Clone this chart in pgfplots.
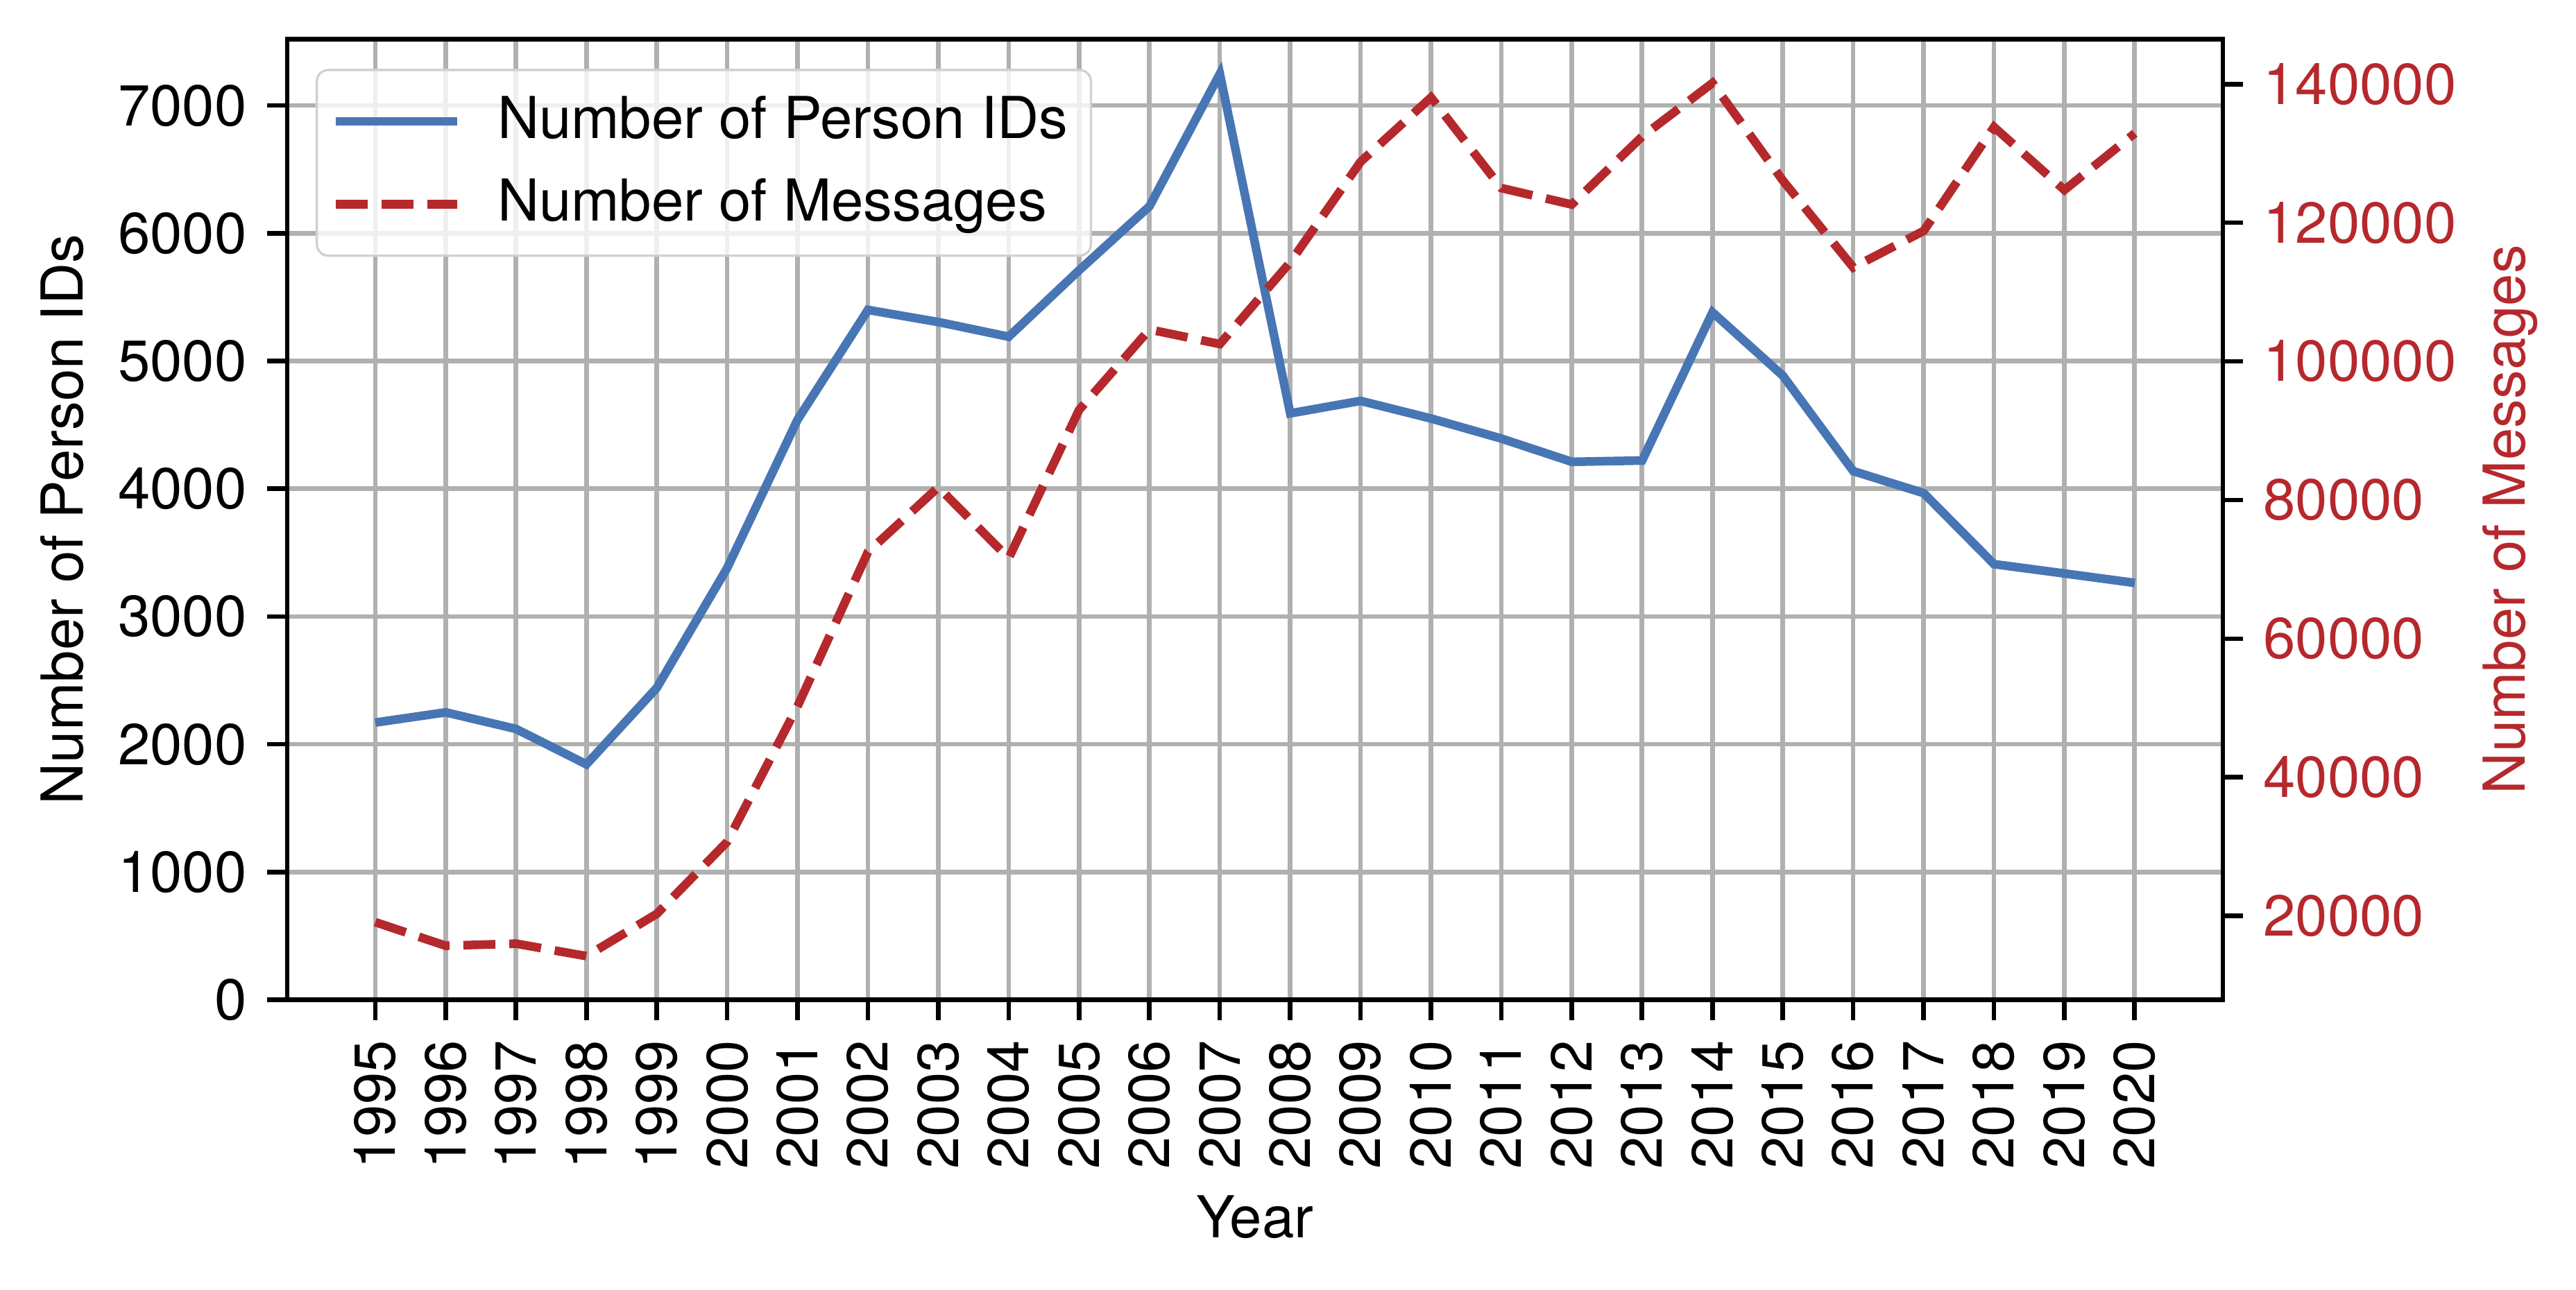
\documentclass[border=0pt]{standalone}
\usepackage{pgfplots}
\pgfplotsset{compat=1.18}
\usepackage{fontspec}
\setmainfont{TeX Gyre Heros}
\definecolor{cblue}{RGB}{72,118,180}
\definecolor{cred}{RGB}{181,40,44}
\definecolor{gridgray}{RGB}{176,176,176}

\pgfplotstableread{
year persons messages
1995 2170 19100
1996 2250 15700
1997 2120 16000
1998 1843 14200
1999 2442 20300
2000 3380 30700
2001 4541 50250
2002 5400 72500
2003 5305 81850
2004 5190 71600
2005 5710 93000
2006 6211 104600
2007 7248 102500
2008 4590 114300
2009 4688 128800
2010 4550 138070
2011 4393 125000
2012 4211 122630
2013 4221 132440
2014 5381 140160
2015 4885 126080
2016 4138 113550
2017 3966 118820
2018 3410 133800
2019 3337 124720
2020 3263 132900
}\datatable

\begin{document}
\begin{tikzpicture}
\pgfplotsset{
  common/.style={
    scale only axis, width=334.8pt, height=166.2pt, at={(0,0)}, anchor=south west,
    xmin=1993.75, xmax=2021.25,
    tick align=outside, major tick length=3.5pt,
    every tick/.style={black, line width=0.8pt},
    /pgf/number format/fixed, /pgf/number format/precision=0,
    /pgf/number format/1000 sep={}, /pgf/number format/assume math mode=true,
    scaled y ticks=false, scaled x ticks=false,
    tick label style={font=\fontsize{10}{12}\selectfont},
    label style={font=\fontsize{10}{12}\selectfont},
    axis line style={line width=0.8pt},
  }
}
\begin{axis}[common,
  ymin=0, ymax=7518,
  xtick={1995,...,2020},
  ytick={0,1000,...,7000},
  xtick pos=left, ytick pos=left,
  xticklabel style={rotate=90, anchor=east},
  grid=major,
  major grid style={gridgray, line width=0.8pt},
  xlabel={Year},
  xlabel style={yshift=2.3pt},
  ylabel={Number of Person IDs},
  ylabel style={yshift=-0.9pt},
]
\addplot[cblue, line width=1.5pt] table[x=year, y=persons] {\datatable};
\end{axis}
\begin{axis}[common,
  ymin=7900, ymax=146460,
  axis x line=none,
  axis y line*=right,
  ytick={20000,40000,...,140000},
  yticklabel style={text=cred},
  ylabel={Number of Messages},
  ylabel style={text=cred, yshift=2.3pt},
  legend cell align=left,
  legend image code/.code={\draw[#1] (0pt,0pt) -- (21pt,0pt); \path[draw=none] (0pt,0pt) -- (26.5pt,0pt);},
  legend style={at={(0,1)}, anchor=north west, xshift=4.9pt, yshift=-5.1pt,
    draw=black!18, rounded corners=2pt, fill=white, fill opacity=0.8, text opacity=1,
    font=\fontsize{10}{12}\selectfont, row sep=2.5pt, inner xsep=2.5pt, inner ysep=3pt,
    nodes={inner sep=1.5pt}},
]
\addlegendimage{cblue, line width=1.5pt}
\addlegendentry{Number of Person IDs}
\addplot[cred, line width=1.5pt, dash pattern=on 5.55pt off 2.4pt] table[x=year, y=messages] {\datatable};
\addlegendentry{Number of Messages}
\end{axis}
\pgfresetboundingbox
\path[use as bounding box] (-49.7pt,-50.2pt) rectangle (395.9pt,173.0pt);
\end{tikzpicture}
\end{document}
